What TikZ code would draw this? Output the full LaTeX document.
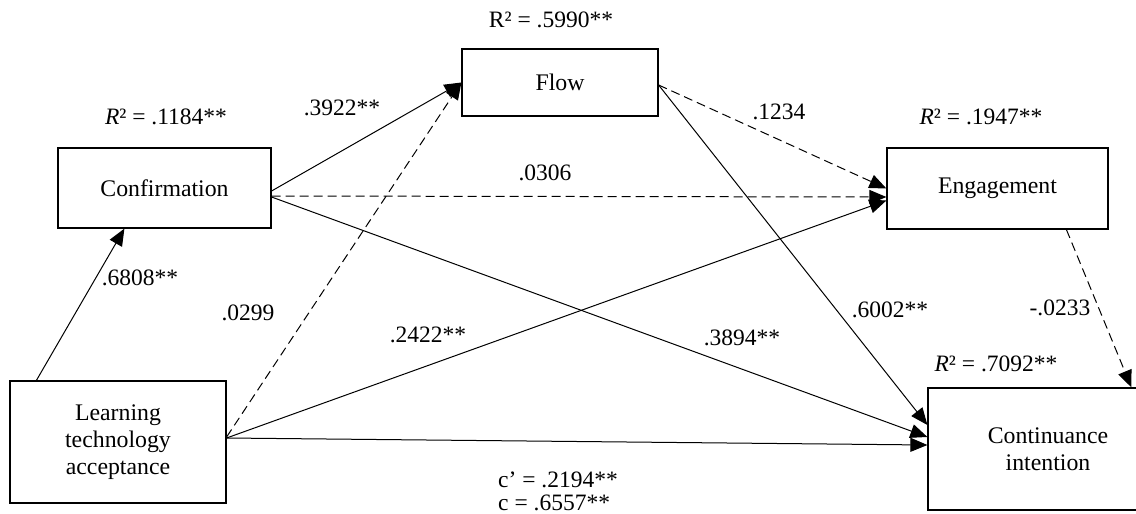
\documentclass[tikz,border=0pt]{standalone}
\usepackage{fontspec}
\setmainfont{Liberation Serif}
\usetikzlibrary{arrows.meta,calc}
\begin{document}
\begin{tikzpicture}[x=1pt,y=-1pt,
  box/.style={draw, line width=1.2pt, inner sep=0pt, align=center, font=\fontsize{23.8}{27}\selectfont},
  lbl/.style={inner sep=0pt, font=\fontsize{23.5}{27}\selectfont},
  arr/.style={line width=1pt, -{Triangle[length=17pt,width=14pt]}},
  dsh/.style={arr, dash pattern=on 9pt off 5pt}]
\useasboundingbox (0,0) rectangle (1136,514);
% boxes
\node[box, minimum width=196pt, minimum height=67pt] (flow) at (560,82.5) {Flow};
\node[box, minimum width=213pt, minimum height=80pt] (conf) at (164.5,188) {Confirmation};
\node[box, minimum width=221pt, minimum height=81pt] (eng) at (997.5,188.5) {Engagement};
\node[box, minimum width=216pt, minimum height=122pt] (lta) at (118,442) {Learning\\technology\\acceptance};
\node[box, minimum width=240pt, minimum height=122pt] (ci) at (1048,449) {Continuance\\intention};
% connectors
\draw[arr] ($(lta.north west)+(27,0)$) -- ($(conf.south west)+(67,0)$);
\draw[arr] ($(conf.east)+(0,3)$) -- (flow.west);
\draw[dsh] ($(lta.east)+(0,-5)$) -- (flow.west);
\draw[dsh] ($(conf.east)+(0,8)$) -- ($(eng.west)+(0,8.5)$);
\draw[dsh] ($(flow.east)+(0,2.5)$) -- (eng.west);
\draw[arr] ($(lta.east)+(0,-4)$) -- ($(eng.west)+(0,12)$);
\draw[arr] ($(conf.east)+(0,9)$) -- ($(ci.west)+(0,-12)$);
\draw[arr] ($(flow.east)+(0,2.5)$) -- ($(ci.west)+(0,-24)$);
\draw[arr] ($(lta.east)+(0,-4)$) -- ($(ci.west)+(0,-4)$);
\draw[dsh] ($(eng.south west)+(180,0)$) -- ($(ci.north west)+(204,0)$);
% labels
\node[lbl] (r1) at (551,20) {R² = .5990**};
\node[lbl] (r2) at (166,117) {\textit{R}² = .1184**};
\node[lbl] (r3) at (981,117) {\textit{R}² = .1947**};
\node[lbl] (r4) at (996,364) {\textit{R}² = .7092**};
\node[lbl] (b1) at (342,108) {.3922**};
\node[lbl] (b2) at (779,112) {.1234};
\node[lbl] (b3) at (545,173) {.0306};
\node[lbl] (b4) at (140,278) {.6808**};
\node[lbl] (b5) at (248,313) {.0299};
\node[lbl] (b6) at (428,335) {.2422**};
\node[lbl] (b7) at (742,338) {.3894**};
\node[lbl] (b8) at (890,310) {.6002**};
\node[lbl] (b9) at (1060,308) {-.0233};
\node[lbl, anchor=west] (c1) at (498,480) {c’ = .2194**};
\node[lbl, anchor=west] (c2) at (498,503) {c = .6557**};
\end{tikzpicture}
\end{document}
